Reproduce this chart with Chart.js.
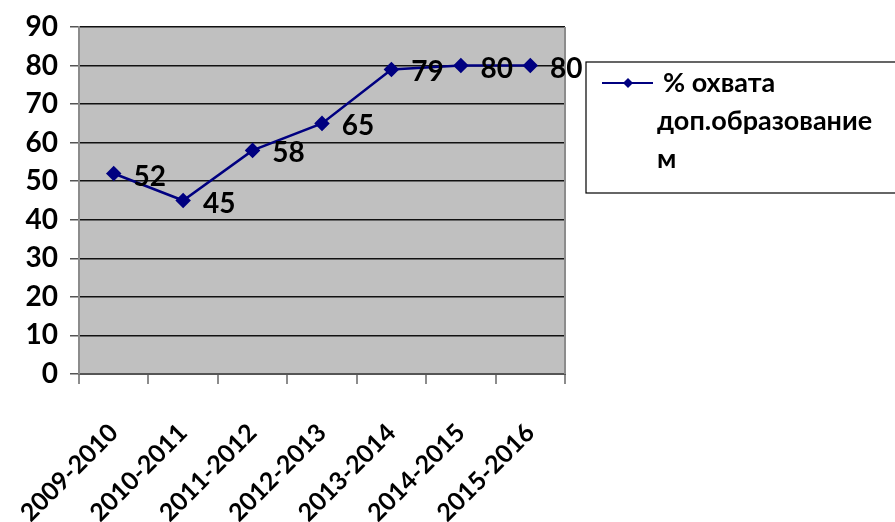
<!DOCTYPE html>
<html>
<head>
<meta charset="utf-8">
<script src="https://cdn.jsdelivr.net/npm/chart.js@4.4.0/dist/chart.umd.min.js"></script>
<style>
  html, body { margin: 0; padding: 0; background: #fff; }
  #wrap { width: 895px; height: 522px; }
</style>
</head>
<body>
<div id="wrap"><canvas id="line"></canvas></div>
<script>
var years = ['2009-2010', '2010-2011', '2011-2012', '2012-2013', '2013-2014', '2014-2015', '2015-2016'];
var coverage = [52, 45, 58, 65, 79, 80, 80];
var legendLines = ['% охвата', 'доп.образование', 'м'];
var yMin = 0, yMax = 90, yStep = 10;

var FONT = 'Lato, "Open Sans", sans-serif';

// grey plot background + right border
var plotBack = {
  id: 'plotBack',
  beforeDraw: function (chart) {
    var a = chart.chartArea, c = chart.ctx;
    c.save();
    c.fillStyle = '#c0c0c0';
    c.fillRect(a.left, a.top, a.right - a.left, a.bottom - a.top);
    c.restore();
  },
  afterDatasetsDraw: function (chart) {
    var a = chart.chartArea, c = chart.ctx;
    c.save();
    c.strokeStyle = '#8c8c8c';
    c.lineWidth = 2;
    c.beginPath();
    c.moveTo(a.right, a.top);
    c.lineTo(a.right, a.bottom);
    c.stroke();
    c.restore();
  }
};

// value labels to the right of each point
var valueLabels = {
  id: 'valueLabels',
  afterDatasetsDraw: function (chart) {
    var c = chart.ctx;
    var meta = chart.getDatasetMeta(0);
    c.save();
    c.font = 'bold 28px ' + FONT;
    c.fillStyle = '#000';
    c.textAlign = 'center';
    c.textBaseline = 'middle';
    meta.data.forEach(function (pt, i) {
      c.fillText(String(coverage[i]), pt.x + 36, pt.y + 3);
    });
    c.restore();
  }
};

// boxed legend on the right
var boxLegend = {
  id: 'boxLegend',
  afterDraw: function (chart) {
    var c = chart.ctx;
    c.save();
    c.strokeStyle = '#000';
    c.lineWidth = 1.2;
    c.strokeRect(586, 62, 320, 131);
    c.strokeStyle = '#000080';
    c.lineWidth = 2;
    c.beginPath();
    c.moveTo(602, 83);
    c.lineTo(653, 83);
    c.stroke();
    c.fillStyle = '#000080';
    c.beginPath();
    c.moveTo(628, 78); c.lineTo(633, 83); c.lineTo(628, 88); c.lineTo(623, 83);
    c.closePath();
    c.fill();
    c.fillStyle = '#000';
    c.font = 'bold 27px ' + FONT;
    c.textBaseline = 'middle';
    c.fillText(legendLines[0], 663, 83);
    c.fillText(legendLines[1], 657, 121);
    c.fillText(legendLines[2], 657, 159);
    c.restore();
  }
};

var ctx = document.getElementById('line').getContext('2d');
var lineChart = new Chart(ctx, {
  type: 'line',
  data: {
    labels: years,
    datasets: [{
      label: legendLines.join(' '),
      data: coverage,
      borderColor: '#000080',
      backgroundColor: '#000080',
      borderWidth: 2.5,
      pointStyle: 'rectRot',
      pointRadius: 6,
      pointHoverRadius: 6,
      tension: 0
    }]
  },
  options: {
    responsive: true,
    maintainAspectRatio: false,
    animation: false,
    devicePixelRatio: 1,
    layout: { padding: { top: 27, right: 330, left: 0, bottom: 0 } },
    plugins: {
      legend: { display: false },
      tooltip: { enabled: false }
    },
    scales: {
      x: {
        offset: true,
        grid: { offset: true, drawOnChartArea: false, color: '#8c8c8c', lineWidth: 2, tickLength: 10 },
        border: { color: '#555', width: 2 },
        ticks: {
          color: '#000',
          font: { family: FONT, size: 25, weight: 'bold' },
          minRotation: 45, maxRotation: 45,
          padding: 34
        },
        afterFit: function (s) { s.height = 148; s.paddingLeft = 0; s.paddingRight = 0; }
      },
      y: {
        min: yMin, max: yMax,
        ticks: {
          stepSize: yStep,
          color: '#000',
          font: { family: FONT, size: 28, weight: 'bold' },
          padding: 12
        },
        grid: { color: '#111', lineWidth: 1.5, tickLength: 9, tickColor: '#555' },
        border: { color: '#8c8c8c', width: 2 },
        afterFit: function (s) { s.width = 79; s.paddingTop = 0; s.paddingBottom = 0; }
      }
    }
  },
  plugins: [plotBack, valueLabels, boxLegend]
});
</script>
</body>
</html>
